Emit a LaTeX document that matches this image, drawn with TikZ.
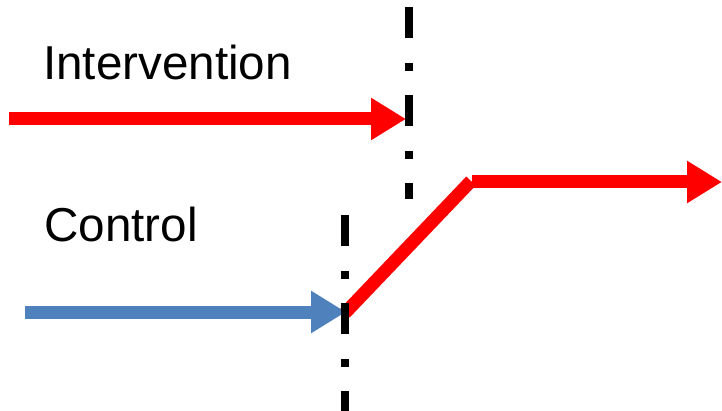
\documentclass[tikz,border=0pt]{standalone}
\usepackage{fontspec}
\setmainfont{Liberation Sans}
\usetikzlibrary{arrows.meta}
\definecolor{ctrlblue}{HTML}{4F81BD}
\definecolor{intred}{HTML}{FF0000}
\tikzset{
  bigarrow/.style={line width=13pt, -{Triangle[width=40pt,length=35pt]}},
  divider/.style={line width=8pt, line cap=butt, dash pattern=on 31pt off 25pt on 8pt off 24pt},
  label/.style={anchor=base west, inner sep=0pt, font=\fontsize{47.6}{56}\selectfont}
}
\begin{document}
\begin{tikzpicture}[x=1pt,y=-1pt]
\useasboundingbox (0,0) rectangle (722,411);
% coordinates
\coordinate (iStart) at (9,119);
\coordinate (iEnd) at (406,119);
\coordinate (cStart) at (25,312);
\coordinate (cEnd) at (346,312);
\coordinate (rampA) at (345,313);
\coordinate (rampB) at (471,181);
\coordinate (hStart) at (472,182);
\coordinate (hEnd) at (722,182);
\coordinate (d1top) at (409,7);
\coordinate (d1bot) at (409,199);
\coordinate (d2top) at (345,215);
\coordinate (d2bot) at (345,411);
% labels
\node[label] (intLabel) at (43,80) {Intervention};
\node[label] (ctrlLabel) at (44,242) {Control};
% arrows
\draw[bigarrow, intred] (iStart) -- (iEnd);
\draw[bigarrow, ctrlblue] (cStart) -- (cEnd);
\draw[intred, line width=13pt, line cap=butt] (rampA) -- (rampB);
\draw[bigarrow, intred] (hStart) -- (hEnd);
% dividers
\draw[divider] (d1top) -- (d1bot);
\draw[divider] (d2top) -- (d2bot);
\end{tikzpicture}
\end{document}
